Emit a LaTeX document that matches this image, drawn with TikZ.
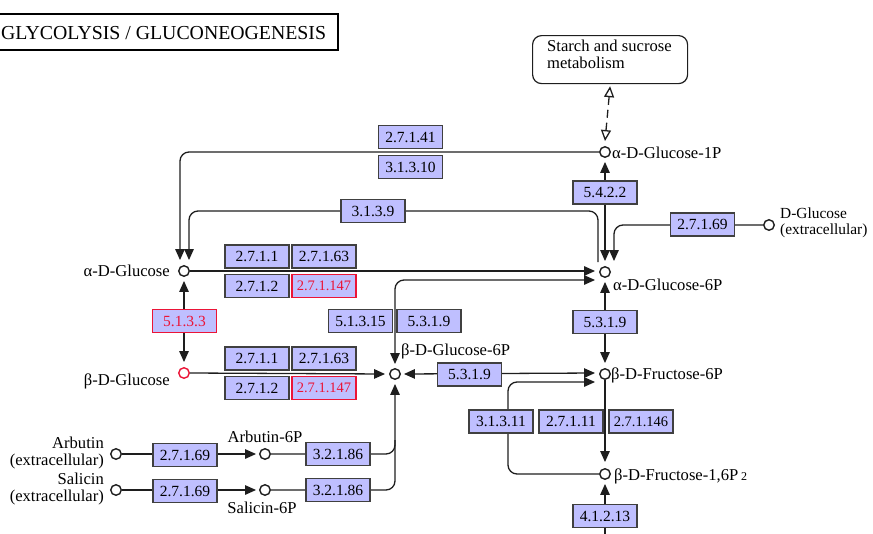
\documentclass[tikz,border=0pt]{standalone}
\usepackage{fontspec}
\setmainfont{Liberation Serif}
\usetikzlibrary{arrows.meta,calc}
\definecolor{ecfill}{RGB}{191,191,255}
\definecolor{ecred}{RGB}{235,20,55}
\definecolor{ln}{RGB}{30,30,30}
\begin{document}
\begin{tikzpicture}[x=1pt,y=-1pt,
  >={Triangle[length=11pt,width=9.5pt]},
  ec/.style={draw=ln!85,fill=ecfill,line width=1.05pt,minimum width=64pt,minimum height=23pt,inner sep=0pt,font=\fontsize{15.5}{16}\selectfont},
  ecr/.style={ec,draw=ecred,text=ecred},
  ecs/.style={font=\fontsize{14.5}{14.5}\selectfont},
  cpd/.style={circle,draw=ln,fill=white,line width=1.4pt,minimum size=10.5pt,inner sep=0pt},
  cpdr/.style={cpd,draw=ecred},
  lbl/.style={font=\fontsize{16.6}{16.6}\selectfont,inner sep=0pt},
  conn/.style={draw=ln,line width=1.3pt},
  oarr/.style={{Triangle[open,length=11pt,width=10pt]}-{Triangle[open,length=11pt,width=10pt]}}
]
\useasboundingbox (0,0) rectangle (873,533);
% title
\node[anchor=west,inner sep=0pt,font=\fontsize{19.8}{19.8}\selectfont] (title) at (1,33) {GLYCOLYSIS / GLUCONEOGENESIS};
\draw[line width=2.5pt] (-5,14) rectangle (338,50);
% map link
\node[draw=ln,line width=1.2pt,rounded corners=9pt,minimum width=155pt,minimum height=48pt,anchor=north west] (starch) at (532,35) {};
\node[lbl,anchor=north west,align=left] (starchtxt) at (547,40) {Starch and sucrose\\metabolism};
% compounds
\node[cpd] (aGlc) at (184,271) {};
\node[cpdr] (bGlc) at (184,373) {};
\node[cpd] (aG1P) at (605,152) {};
\node[cpd] (aG6P) at (605,272) {};
\node[cpd] (bG6P) at (395,374) {};
\node[cpd] (bF6P) at (605,374) {};
\node[cpd] (bF16P) at (605,474) {};
\node[cpd] (DGlcEx) at (769,225) {};
\node[cpd] (ArbEx) at (116,454) {};
\node[cpd] (Arb6P) at (265,454) {};
\node[cpd] (SalEx) at (116,490) {};
\node[cpd] (Sal6P) at (265,490) {};
% compound labels
\node[lbl,anchor=east] (laGlc) at (170,271) {α-D-Glucose};
\node[lbl,anchor=east] (lbGlc) at (170,381) {β-D-Glucose};
\node[lbl,anchor=west] (laG1P) at (612,153) {α-D-Glucose-1P};
\node[lbl,anchor=west] (laG6P) at (613,285) {α-D-Glucose-6P};
\node[lbl,anchor=west] (lbG6P) at (401,351) {β-D-Glucose-6P};
\node[lbl,anchor=west] (lbF6P) at (611,375) {β-D-Fructose-6P};
\node[lbl,anchor=west] (lbF16P) at (614,476) {β-D-Fructose-1,6P\,{\fontsize{12}{12}\selectfont 2}};
\node[lbl,anchor=west,align=left,font=\fontsize{15.4}{15.8}\selectfont] (lDGlc) at (780,223) {D-Glucose\\(extracellular)};
\node[lbl,anchor=east,align=right] (lArbEx) at (104,453) {Arbutin\\(extracellular)};
\node[lbl,anchor=east,align=right] (lSalEx) at (104,489) {Salicin\\(extracellular)};
\node[lbl] (lArb6P) at (265,437) {Arbutin-6P};
\node[lbl] (lSal6P) at (262,508) {Salicin-6P};
% free ends
\coordinate (c3139) at (598,262);
\coordinate (bot) at (605,545);
% connectors
\draw[conn,->,rounded corners=9pt] (aG1P.west) -| ($(aGlc.north)+(-4,-5)$);
\draw[conn,->,rounded corners=9pt] (c3139) -- (598,211) -- (189,211) -- ($(aGlc.north)+(5,-5)$);
\draw[conn,->] (aGlc.east) -- ($(aG6P.west)+(-4,-1)$);
\draw[conn,<->,rounded corners=9pt] ($(bG6P.north)+(0,-4)$) |- ($(aG6P.west)+(-4,8)$);
\draw[conn,<->] ($(aG1P.south)+(0,4)$) -- ($(aG6P.north)+(0,-5)$);
\draw[conn,->,rounded corners=9pt] (DGlcEx.west) -| ($(aG6P.north)+(9,-5)$);
\draw[conn,<->] ($(aG6P.south)+(0,4)$) -- ($(bF6P.north)+(0,-5)$);
\draw[conn,<->] ($(bG6P.east)+(3,0)$) -- ($(bF6P.west)+(-4,-1)$);
\draw[conn,->,rounded corners=9pt] (bF16P.west) -| (508,420) |- ($(bF6P.west)+(-4,8)$);
\draw[conn,->] (bF6P.south) -- ($(bF16P.north)+(0,-6)$);
\draw[conn,->] (bot) -- ($(bF16P.south)+(0,4)$);
\draw[conn,<->] ($(aGlc.south)+(0,4)$) -- ($(bGlc.north)+(0,-5)$);
\draw[conn,->] (bGlc.east) -- ($(bG6P.west)+(-4,0)$);
\draw[conn,->] (ArbEx.east) -- ($(Arb6P.west)+(-3,0)$);
\draw[conn,->] (SalEx.east) -- ($(Sal6P.west)+(-3,0)$);
\draw[conn,->,rounded corners=9pt] (Sal6P.east) -| ($(bG6P.south)+(0,4)$);
\draw[conn,rounded corners=9pt] (Arb6P.east) -| (395,440);
\draw[conn,oarr,dash pattern=on 8pt off 5pt] ($(starch.south)+(0,2)$) -- ($(aG1P.north)+(0,-5)$);
% enzymes
\node[ec] (e2741) at (410.5,137) {2.7.1.41};
\node[ec] (e31310) at (410.5,167) {3.1.3.10};
\node[ec] (e3139) at (373,211) {3.1.3.9};
\node[ec] (e2711a) at (257,256.5) {2.7.1.1};
\node[ec] (e27163a) at (324,256.5) {2.7.1.63};
\node[ec] (e2712a) at (257,286) {2.7.1.2};
\node[ecr,ecs] (e271147a) at (324,286) {2.7.1.147};
\node[ecr] (e5133) at (184.5,321) {5.1.3.3};
\node[ec] (e2711b) at (257,358.5) {2.7.1.1};
\node[ec] (e27163b) at (324,358.5) {2.7.1.63};
\node[ec] (e2712b) at (257,388) {2.7.1.2};
\node[ecr,ecs] (e271147b) at (324,388) {2.7.1.147};
\node[ec] (e51315) at (360.5,321) {5.1.3.15};
\node[ec] (e5319a) at (429,321) {5.3.1.9};
\node[ec] (e27169a) at (185,455) {2.7.1.69};
\node[ec] (e32186a) at (338,454) {3.2.1.86};
\node[ec] (e27169b) at (185,491) {2.7.1.69};
\node[ec] (e32186b) at (338,490) {3.2.1.86};
\node[ec] (e5422) at (605,192.5) {5.4.2.2};
\node[ec] (e27169c) at (702.5,224.5) {2.7.1.69};
\node[ec] (e5319b) at (605,322) {5.3.1.9};
\node[ec] (e5319c) at (469.5,374.5) {5.3.1.9};
\node[ec] (e31311) at (501,421.5) {3.1.3.11};
\node[ec] (e27111) at (571,421.5) {2.7.1.11};
\node[ec,ecs] (e271146) at (641,421.5) {2.7.1.146};
\node[ec] (e41213) at (605,516) {4.1.2.13};
\end{tikzpicture}
\end{document}
